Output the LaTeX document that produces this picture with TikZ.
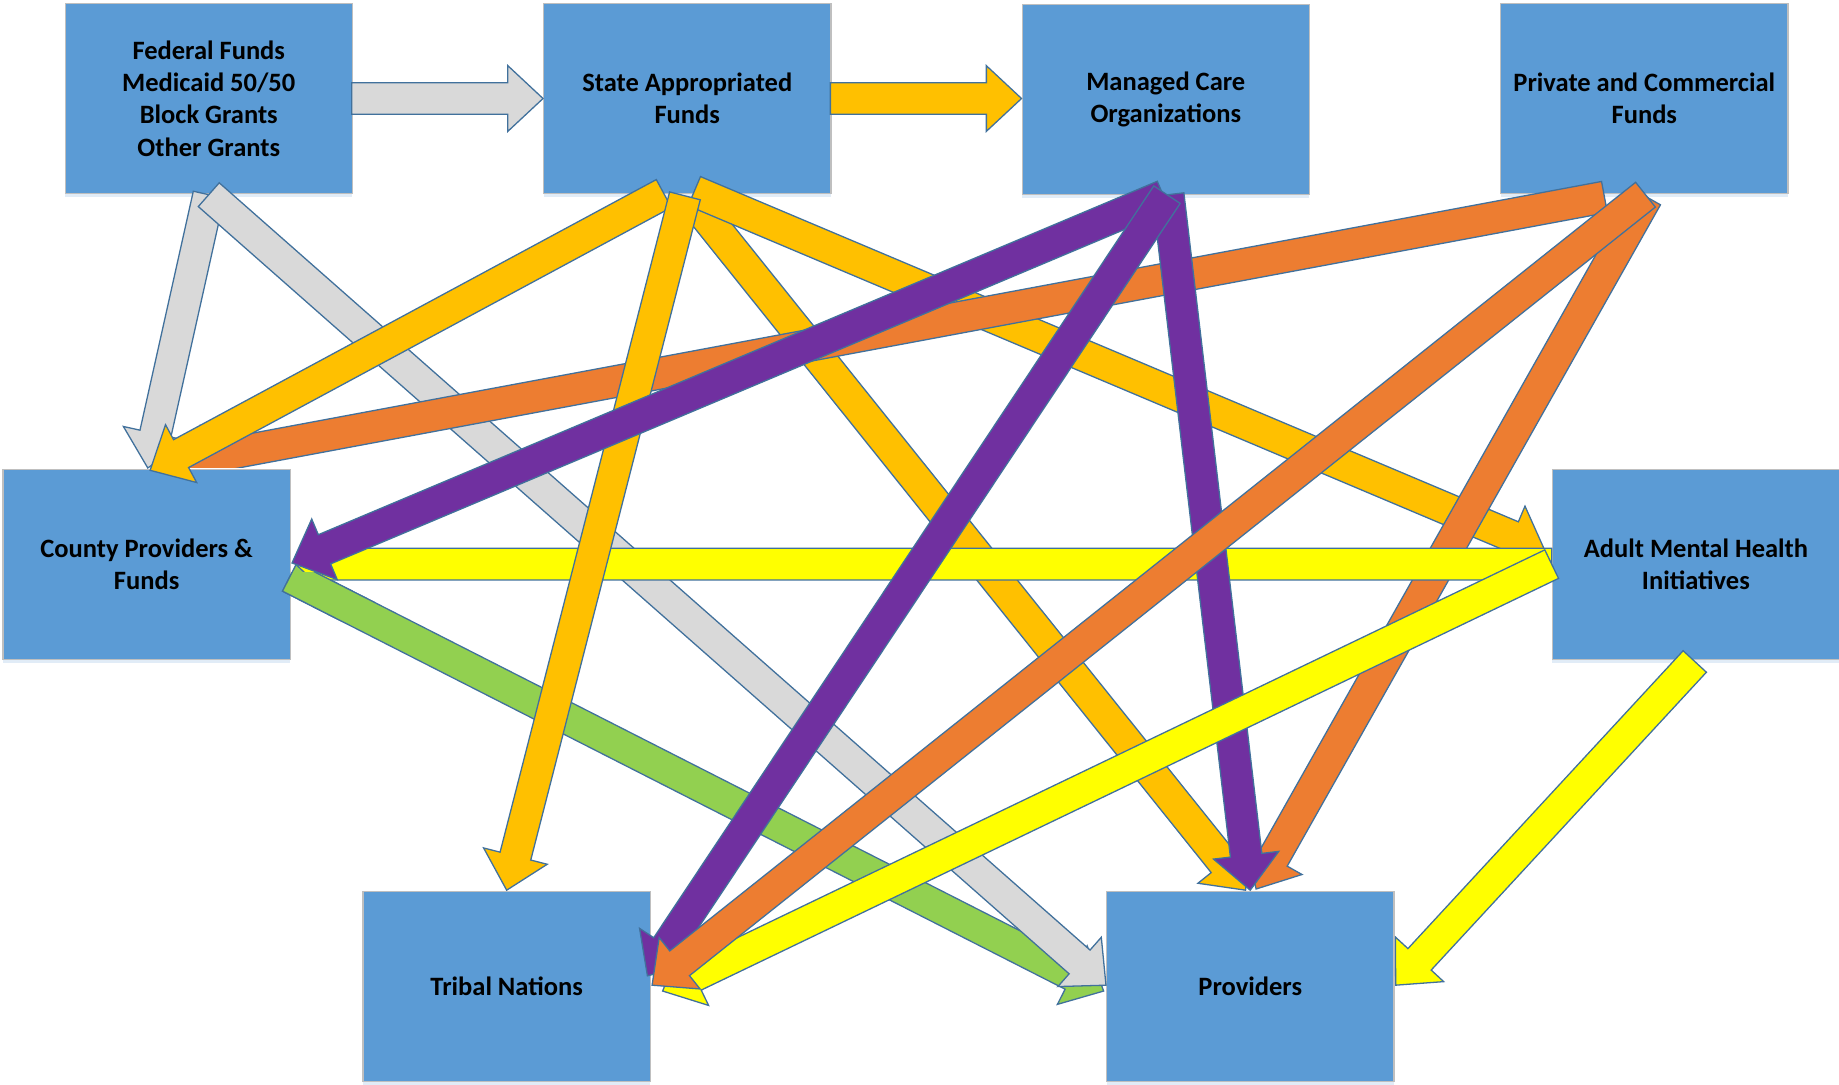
\documentclass[tikz,border=0pt]{standalone}
\usepackage{fontspec}
\setmainfont{Carlito}
\usetikzlibrary{calc,shadows}
\definecolor{boxblue}{HTML}{5B9BD5}
\definecolor{boxedge}{HTML}{BFBFBF}
\definecolor{outl}{HTML}{41719C}
\definecolor{cgrey}{HTML}{D9D9D9}
\definecolor{cgold}{HTML}{FFC000}
\definecolor{corange}{HTML}{ED7D31}
\definecolor{cpurple}{HTML}{7030A0}
\definecolor{cyellow}{HTML}{FFFF00}
\definecolor{cgreen}{HTML}{92D050}
\def\sw{13.5pt}
\def\hw{28pt}
\def\hl{30pt}
\newcommand\blockar[3]{%
  \coordinate (nk) at ($(#3)!\hl!(#2)$);
  \path[blockline,#1] ($(#2)!\sw!90:(#3)$) -- ($(nk)!\sw!-90:(#2)$) -- ($(nk)!\hw!-90:(#2)$) -- (#3)
     -- ($(nk)!\hw!90:(#2)$) -- ($(nk)!\sw!90:(#2)$) -- ($(#2)!\sw!-90:(#3)$) -- cycle;
}
\begin{document}
\begin{tikzpicture}[x=1pt,y=-1pt,
  box/.style={draw=boxedge, line width=1pt, fill=boxblue, minimum width=245pt, minimum height=162pt,
    inner sep=0pt, align=center, font=\fontsize{22.6}{27.6}\selectfont\bfseries, text=black,
    drop shadow={shadow xshift=0pt, shadow yshift=-3pt, opacity=0.18, fill=boxblue}},
  blockline/.style={draw=outl, line width=1.1pt, line join=miter},
  gry/.style={fill=cgrey}, gld/.style={fill=cgold}, orn/.style={fill=corange},
  prp/.style={fill=cpurple}, ylw/.style={fill=cyellow}, grn/.style={fill=cgreen}]
\fill[white] (0,0) rectangle (1568,925);
\useasboundingbox (0,0) rectangle (1568,925);

% boxes
\node[box] (fed) at (178,84) {Federal Funds\\Medicaid 50/50\\Block Grants\\Other Grants};
\node[box] (state) at (586,84) {State Appropriated\\Funds};
\node[box] (mco) at (994,85) {Managed Care\\Organizations};
\node[box] (priv) at (1402,84) {Private and Commercial\\Funds};
\node[box] (county) at (125,481) {County Providers \&\\Funds};
\node[box] (adult) at (1446,481) {Adult Mental Health\\Initiatives};
\node[box] (tribal) at (432,841) {Tribal Nations};
\node[box] (prov) at (1066,841) {Providers};

% arrow end points
\coordinate (fedR) at (300,84);
\coordinate (stateL) at (463,84);
\coordinate (stateR) at (708,84);
\coordinate (mcoL) at (871,84);
\coordinate (fedB) at (178,166);
\coordinate (cntT1) at (126,399);
\coordinate (provL1) at (943,840);
\coordinate (stB1) at (566,165);
\coordinate (cntT2) at (128,401);
\coordinate (stB2) at (584,167);
\coordinate (tribT) at (432,759);
\coordinate (stB3) at (590,170);
\coordinate (provT1) at (1062,759);
\coordinate (stB4) at (592,163);
\coordinate (adultL1) at (1317,469);
\coordinate (mcoB1) at (992,167);
\coordinate (cntR1) at (249,480);
\coordinate (mcoB2) at (995,166);
\coordinate (tribR1) at (552,832);
\coordinate (mcoB3) at (996,166);
\coordinate (provT2) at (1066,759);
\coordinate (privB1) at (1368,168);
\coordinate (cntT3) at (146,396);
\coordinate (privB2) at (1403,166);
\coordinate (tribR2) at (556,840);
\coordinate (privB3) at (1404,168);
\coordinate (provT3) at (1071,758);
\coordinate (adultL) at (1323,481);
\coordinate (cntR2) at (252,481);
\coordinate (tribR3) at (565,845);
\coordinate (adultB) at (1445,564);
\coordinate (provR) at (1190,840);
\coordinate (cntR3) at (247,492);
\coordinate (provL2) at (941,845);

% arrows (back to front)
\blockar{gry}{fedB}{cntT1}
\blockar{grn}{cntR3}{provL2}
\blockar{gry}{fedB}{provL1}
\blockar{gry}{fedR}{stateL}
\blockar{gld}{stateR}{mcoL}
\blockar{gld}{stB3}{provT1}
\blockar{gld}{stB4}{adultL1}
\begin{scope}
  \clip (0,0) rectangle (1568,399);
  \blockar{orn}{privB1}{cntT3}
\end{scope}
\blockar{gld}{stB1}{cntT2}
\blockar{orn}{privB3}{provT3}
\blockar{ylw}{adultL}{cntR2}
\begin{scope}
  \clip (236,488) rectangle (320,530);
  \blockar{grn}{cntR3}{provL2}
\end{scope}
\blockar{gld}{stB2}{tribT}
\blockar{prp}{mcoB1}{cntR1}
\blockar{prp}{mcoB3}{provT2}
\blockar{ylw}{adultL}{tribR3}
\blockar{prp}{mcoB2}{tribR1}
\blockar{orn}{privB2}{tribR2}
\blockar{ylw}{adultB}{provR}
\end{tikzpicture}
\end{document}
